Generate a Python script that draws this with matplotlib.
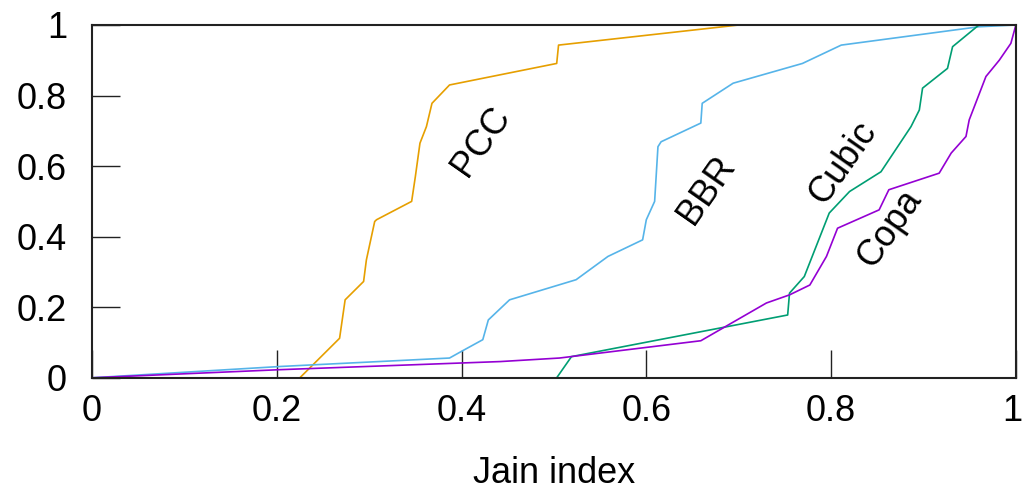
import matplotlib.pyplot as plt
import matplotlib.transforms as mtransforms

plt.rcParams['font.family'] = ['Liberation Sans', 'DejaVu Sans']

# CDF of Jain fairness index per congestion control scheme
pcc_x = [0.225, 0.268, 0.274, 0.294, 0.297, 0.306, 0.308, 0.346, 0.350, 0.355,
         0.362, 0.368, 0.387, 0.503, 0.505, 0.700, 1.0]
pcc_y = [0.0, 0.112, 0.221, 0.273, 0.334, 0.443, 0.448, 0.500, 0.570, 0.665,
         0.712, 0.778, 0.830, 0.891, 0.943, 1.0, 1.0]

bbr_x = [0.0, 0.2035, 0.387, 0.400, 0.423, 0.429, 0.452, 0.524, 0.5585, 0.596,
         0.600, 0.609, 0.6126, 0.616, 0.659, 0.6605, 0.694, 0.769, 0.811, 0.960, 1.0]
bbr_y = [0.0, 0.032, 0.056, 0.075, 0.108, 0.164, 0.221, 0.278, 0.344, 0.391,
         0.448, 0.500, 0.655, 0.669, 0.722, 0.778, 0.835, 0.891, 0.943, 0.995, 1.0]

cubic_x = [0.503, 0.519, 0.753, 0.755, 0.771, 0.798, 0.820, 0.854, 0.8865, 0.8955,
           0.899, 0.926, 0.9315, 0.960, 1.0]
cubic_y = [0.0, 0.060, 0.178, 0.240, 0.287, 0.467, 0.528, 0.584, 0.712, 0.759,
           0.821, 0.877, 0.9385, 1.0, 1.0]

copa_x = [0.0, 0.2035, 0.442, 0.506, 0.659, 0.730, 0.755, 0.777, 0.795, 0.807,
          0.852, 0.8625, 0.917, 0.930, 0.946, 0.9495, 0.9676, 0.982, 0.9946, 1.0]
copa_y = [0.0, 0.023, 0.046, 0.056, 0.105, 0.212, 0.235, 0.263, 0.344, 0.424,
          0.476, 0.533, 0.580, 0.637, 0.684, 0.731, 0.854, 0.900, 0.948, 1.0]

ticks = [0, 0.2, 0.4, 0.6, 0.8, 1]
tick_labels = ['0', '0.2', '0.4', '0.6', '0.8', '1']

fig = plt.figure(figsize=(10.22, 4.9), dpi=100)
ax = fig.add_axes([0.090, 0.229, 0.904, 0.720])

ax.plot(pcc_x, pcc_y, color='#e69f00', lw=1.2)
ax.plot(bbr_x, bbr_y, color='#56b4e9', lw=1.2)
ax.plot(cubic_x, cubic_y, color='#009e73', lw=1.2)
ax.plot(copa_x, copa_y, color='#9400d3', lw=1.2)

# curve labels, rotated along the curves
ax.text(0.4216, 0.669, 'PCC', rotation=55, fontsize=26, ha='center', va='center')
ax.text(0.665, 0.533, 'BBR', rotation=55, fontsize=26, ha='center', va='center')
ax.text(0.8126, 0.608, 'Cubic', rotation=55, fontsize=26, ha='center', va='center')
ax.text(0.863, 0.424, 'Copa', rotation=55, fontsize=26, ha='center', va='center')

ax.set_xlim(0, 1)
ax.set_ylim(0, 1)
ax.set_xticks(ticks)
ax.set_xticklabels(tick_labels)
ax.set_yticks(ticks)
ax.set_yticklabels(tick_labels)
ax.tick_params(direction='in', length=20, width=1.0, labelsize=26, color='#222222')
ax.tick_params(axis='x', pad=12)
ax.tick_params(axis='y', pad=18)
for s in ax.spines.values():
    s.set_linewidth(1.5)
    s.set_color('#222222')
ax.set_xlabel('Jain index', fontsize=26, labelpad=19)

# nudge the last x label so it stays inside the figure
last = ax.get_xticklabels()[-1]
last.set_transform(last.get_transform() +
                   mtransforms.ScaledTranslation(-4 / 100, 0, fig.dpi_scale_trans))

fig.savefig('out.png', dpi=100)
